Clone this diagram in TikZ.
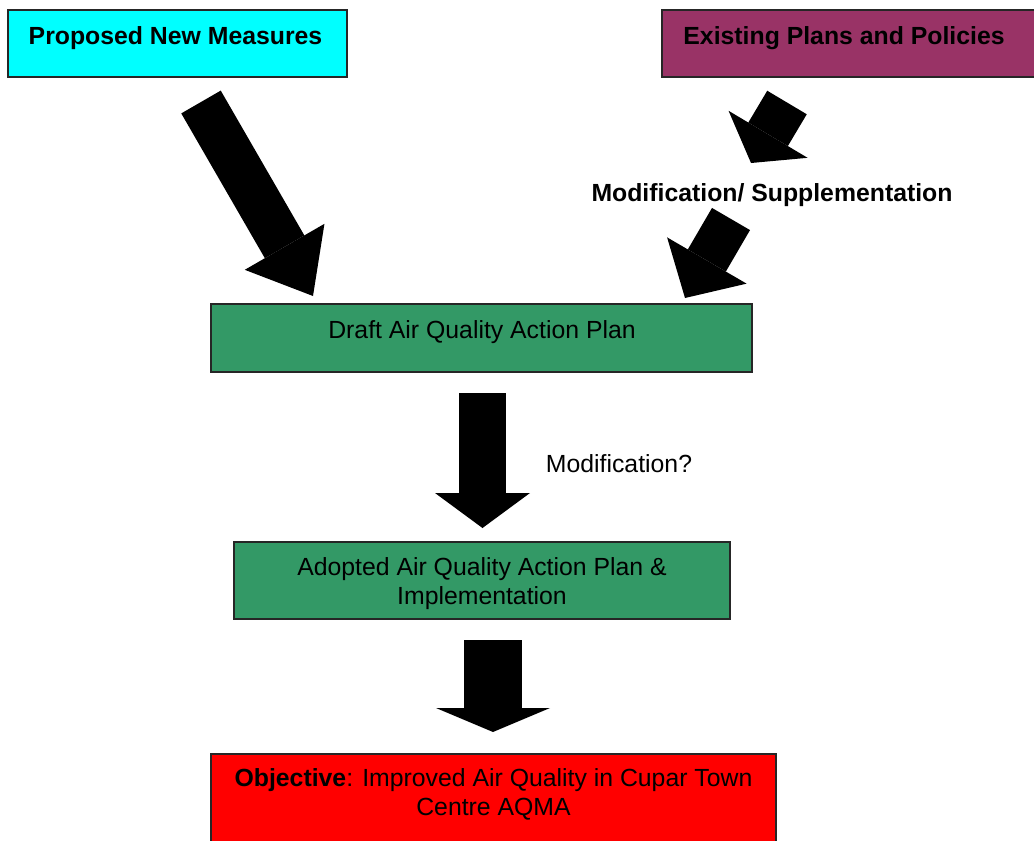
\documentclass[tikz,border=0pt]{standalone}
\usepackage{fontspec}
\setmainfont{Liberation Sans}
\usetikzlibrary{arrows.meta}
\definecolor{cyanbox}{RGB}{0,255,255}
\definecolor{plumbox}{RGB}{153,51,102}
\definecolor{greenbox}{RGB}{51,153,102}
\definecolor{redbox}{RGB}{255,0,0}
\begin{document}
\begin{tikzpicture}[x=0.5pt,y=-0.5pt,
    box/.style={draw=black!85,line width=0.75pt,inner sep=0pt},
    txt/.style={font=\fontsize{12.4}{14.5}\selectfont,inner sep=0pt,align=center},
    bold/.style={font=\fontsize{12.4}{14.5}\selectfont\bfseries,inner sep=0pt},
    fat/.style args={#1/#2/#3}{line width=#1,-{Triangle[width=#2,length=#3,line width=0pt]}}]
  \useasboundingbox (0,0) rectangle (1034,841);
  \path
    (177.5,43.5) node[box,fill=cyanbox,minimum width=169.5pt,minimum height=33.5pt] (new){}
    (851,43.5) node[box,fill=plumbox,minimum width=189pt,minimum height=33.5pt] (old){}
    (481.5,338) node[box,fill=greenbox,minimum width=270.5pt,minimum height=34pt] (draft){}
    (482,580.5) node[box,fill=greenbox,minimum width=248pt,minimum height=38.5pt] (adopted){}
    (493.5,802) node[box,fill=redbox,minimum width=282.5pt,minimum height=48pt] (goal){};
  \path
    (175.5,44) node[bold,anchor=base] (newtext){Proposed New Measures}
    (844,44) node[bold,anchor=base] (oldtext){Existing Plans and Policies}
    (772,201) node[bold,anchor=base] (mod){Modification/ Supplementation}
    (482,338) node[txt,anchor=base] (drafttext){Draft Air Quality Action Plan}
    (619,472) node[txt,anchor=base] (modq){Modification?}
    (482,583.5) node[txt] (adoptedtext){Adopted Air Quality Action Plan \&\\Implementation}
    (493.5,794.5) node[txt] (goaltext){\textbf{Objective}: Improved Air Quality in Cupar Town\\Centre AQMA};
  \path
    (201,102) coordinate (a0) (313,296) coordinate (b0)
    (787,102.5) coordinate (a1) (751,163) coordinate (b1)
    (731,219) coordinate (a2) (685,298) coordinate (b2)
    (482.5,393) coordinate (a3) (482.5,528) coordinate (b3)
    (493,640) coordinate (a4) (493,732) coordinate (b4);
  \begin{scope}[black]
    \draw[fat=22.8pt/46pt/28.4pt] (a0) -- (b0);
    \draw[fat=23pt/46pt/16.7pt] (a1) -- (b1);
    \draw[fat=22pt/46pt/21.7pt] (a2) -- (b2);
    \draw[fat=23.5pt/47.5pt/17.5pt] (a3) -- (b3);
    \draw[fat=29pt/57pt/12pt] (a4) -- (b4);
  \end{scope}
\end{tikzpicture}
\end{document}
